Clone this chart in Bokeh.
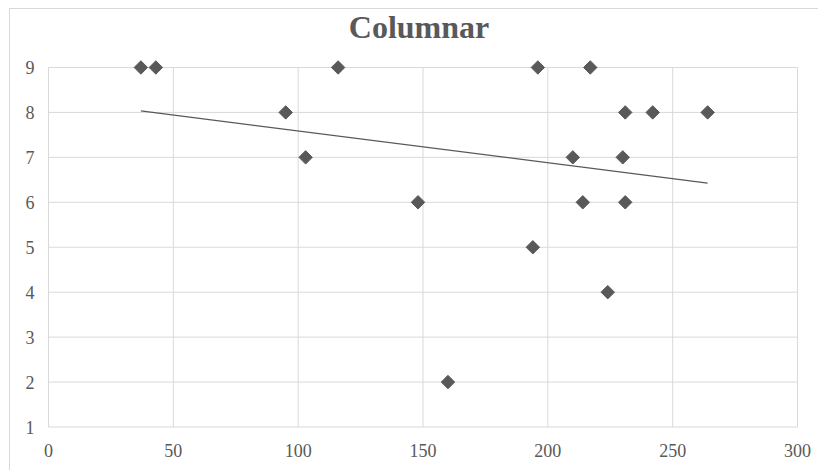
import numpy as np
from bokeh.plotting import figure
from bokeh.models import Range1d, FixedTicker, Label
from bokeh.embed import file_html
from bokeh.resources import INLINE

title_text = "Columnar"
x_values = [37, 43, 116, 196, 217, 95, 231, 242, 264, 103, 210, 230, 148, 214, 231, 194, 224, 160]
y_values = [9, 9, 9, 9, 9, 8, 8, 8, 8, 7, 7, 7, 6, 6, 6, 5, 4, 2]
x_ticks = [0, 50, 100, 150, 200, 250, 300]
y_ticks = [1, 2, 3, 4, 5, 6, 7, 8, 9]

GRAY = "#595959"
GRID = "#d9d9d9"
FONT = "Liberation Serif"

x_lo, x_hi = x_ticks[0], x_ticks[-1]
y_lo, y_hi = y_ticks[0], y_ticks[-1]

# frame extends above the top tick to hold the chart title
p = figure(width=809, height=462, output_backend="svg", toolbar_location=None,
           x_range=Range1d(x_lo - 2, x_hi + 2), y_range=Range1d(y_lo - 0.1, y_hi + 1.29),
           min_border_left=33, min_border_right=17, min_border_top=0, min_border_bottom=40,
           outline_line_color=None, background_fill_color="white", border_fill_color="white")
p.margin = (8, 0, 0, 9)
p.styles = {"border-top": "1px solid #d9d9d9", "border-left": "1px solid #d9d9d9"}

title = Label(text=title_text, x=(x_lo + x_hi) / 2 - 1.6, y=y_hi + 0.9,
              text_align="center", text_baseline="alphabetic", text_font=FONT,
              text_font_size="32px", text_font_style="bold", text_color=GRAY)
p.add_layout(title)

for ax in (p.xaxis[0], p.yaxis[0]):
    ax.axis_line_color = None
    ax.major_tick_line_color = None
    ax.minor_tick_line_color = None
    ax.major_label_text_font = FONT
    ax.major_label_text_font_size = "18px"
    ax.major_label_text_color = GRAY
p.xaxis[0].ticker = FixedTicker(ticks=x_ticks)
p.yaxis[0].ticker = FixedTicker(ticks=y_ticks)
p.xaxis[0].major_label_standoff = 6
p.yaxis[0].major_label_standoff = 3

p.xgrid.visible = False
p.ygrid.visible = False

# gridlines bounded to the axis extent
p.segment(x0=x_ticks, y0=[y_lo] * len(x_ticks), x1=x_ticks, y1=[y_hi] * len(x_ticks),
          line_color=GRID, line_width=1)
p.segment(x0=[x_lo] * len(y_ticks), y0=y_ticks, x1=[x_hi] * len(y_ticks), y1=y_ticks,
          line_color=GRID, line_width=1)

# linear trendline computed from the data
xs = np.array(x_values, dtype=float)
ys = np.array(y_values, dtype=float)
m, b = np.polyfit(xs, ys, 1)
tx = [xs.min(), xs.max()]
p.line(tx, [m * v + b for v in tx], line_color=GRAY, line_width=1.25)

p.scatter(x_values, y_values, marker="square", size=9.5, angle=np.pi / 4,
          fill_color=GRAY, line_color=GRAY)

open("out.html", "w").write(file_html(p, INLINE))
